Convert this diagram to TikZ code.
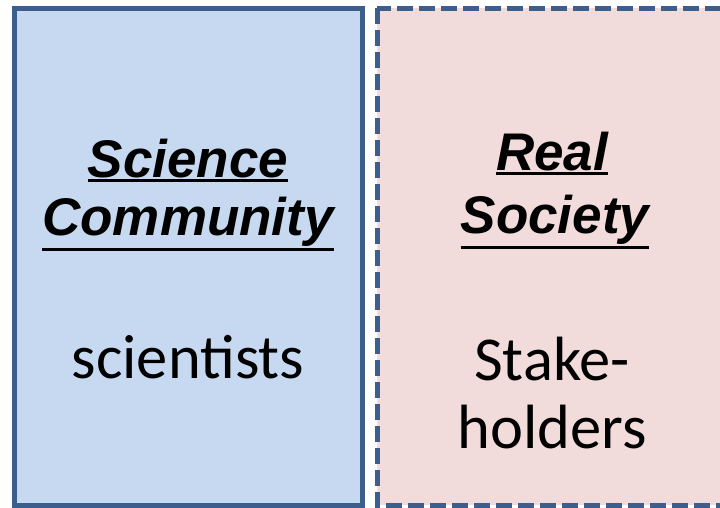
\documentclass[tikz,border=0pt]{standalone}
\usepackage{fontspec}
\usepackage{xcolor}
\newfontfamily\headfont{Liberation Sans}
\newfontfamily\bodyfont{Carlito}
\definecolor{frameblue}{HTML}{3B5E8C}
\definecolor{sciblue}{HTML}{C6D9F1}
\definecolor{socpink}{HTML}{F2DCDB}
\newcommand{\ulword}[1]{\setbox0\hbox{#1}\rlap{\rule[-\dimexpr\dp0+4.5pt\relax]{\wd0}{3pt}}\box0}
\tikzset{
  title/.style={anchor=base, font=\headfont\bfseries\itshape\fontsize{53}{58}\selectfont},
  body/.style={anchor=base, font=\bodyfont\fontsize{62.5}{68}\selectfont}
}

\begin{document}
\begin{tikzpicture}[x=1pt, y=-1pt]
      \useasboundingbox (0,0) rectangle (720,507);
      \clip (0,0) rectangle (720,507);
      % Boxes
      \draw[frameblue, line width=5pt, fill=sciblue] (14.5,8) rectangle (362,505);
      \draw[frameblue, line width=5pt, fill=socpink, dash pattern=on 16pt off 6pt] (377,8) rectangle (745,505);

      % Science side
      \node[title] (sci1) at (188,177) {\ulword{Science}};
      \node[title] (sci2) at (188,235) {\ulword{Community}};
      \node[body] (sci3) at (188,378) {scientists};

      % Society side
      \node[title] (soc1) at (552,170) {\ulword{Real}};
      \node[title] (soc2) at (555,233) {\ulword{Society}};
      \node[body] (soc3) at (552,380) {Stake-};
      \node[body] (soc4) at (552,448) {holders};
    \end{tikzpicture}
\end{document}
